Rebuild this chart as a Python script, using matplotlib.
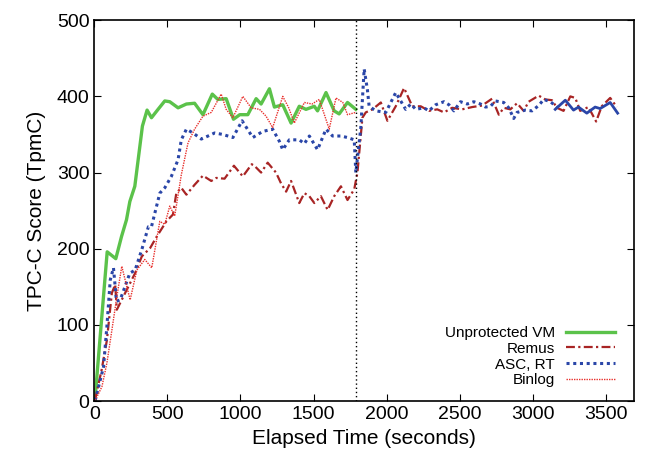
import matplotlib.pyplot as plt
import numpy as np

plt.rcParams['font.family'] = ['Liberation Sans', 'DejaVu Sans']

# Unprotected VM
t_vm = [4, 88, 147, 186, 220, 243, 277, 329, 361, 391, 436, 482, 516, 573, 630, 686,
        743, 807, 845, 902, 952, 995, 1050, 1107, 1141, 1198, 1232, 1289, 1346, 1402,
        1448, 1505, 1527, 1585, 1641, 1675, 1732, 1789]
v_vm = [1, 196, 187, 216, 238, 262, 282, 361, 382, 372, 383, 394, 393, 385, 390, 391,
        376, 403, 396, 397, 370, 376, 376, 397, 390, 410, 386, 389, 365, 387,
        383, 387, 381, 405, 381, 377, 392, 383]

# Remus
t_remus = [4, 50, 86, 120, 143, 154, 211, 279, 325, 382, 427, 493, 538, 561, 595, 630,
           686, 743, 800, 834, 891, 955, 1016, 1077, 1100, 1141, 1186, 1243, 1277, 1312,
           1346, 1402, 1437, 1471, 1505, 1550, 1596, 1641, 1687, 1732, 1778, 1800, 1834,
           1857, 1903, 1960, 2005, 2062, 2119, 2175, 2233, 2289, 2346, 2392, 2448, 2516,
           2585, 2653, 2721, 2767, 2801, 2846, 2892, 2937, 2971, 3040, 3085, 3131, 3165,
           3210, 3256, 3290, 3324, 3380, 3433, 3471, 3529, 3574]
v_remus = [1, 41, 80, 142, 153, 120, 142, 168, 190, 201, 216, 236, 245, 273, 280, 271,
           284, 296, 289, 293, 292, 309, 295, 311, 308, 300, 313, 300, 286, 275,
           289, 260, 273, 269, 260, 269, 251, 269, 282, 264, 278, 300, 372,
           379, 383, 392, 368, 387, 411, 387, 387, 381, 383, 379, 385, 383,
           386, 388, 397, 376, 385, 383, 391, 381, 393, 401, 396, 395, 385,
           381, 400, 398, 381, 386, 367, 387, 398, 386]

# ASC, RT
t_asc = [6, 63, 86, 109, 131, 152, 177, 243, 279, 325, 370, 391, 448, 482, 527, 573,
         595, 630, 675, 732, 778, 823, 880, 948, 1011, 1084, 1152, 1220, 1266, 1289,
         1334, 1402, 1437, 1471, 1527, 1585, 1630, 1687, 1732, 1778, 1789, 1812, 1823,
         1846, 1868, 1880, 1926, 1994, 2028, 2062, 2130, 2165, 2199, 2255, 2289, 2335,
         2392, 2426, 2460, 2505, 2551, 2596, 2642, 2676, 2710, 2744, 2801, 2835, 2869,
         2892, 2949, 2994, 3040, 3074, 3120, 3165]
v_asc = [1, 45, 98, 159, 175, 131, 133, 168, 172, 199, 229, 229, 273, 280, 295, 317,
         343, 357, 352, 344, 348, 352, 350, 346, 368, 346, 354, 357, 341, 330,
         343, 343, 338, 348, 330, 357, 348, 348, 346, 343, 300, 340, 359,
         436, 409, 387, 381, 379, 392, 405, 383, 390, 383, 385, 381, 389,
         393, 389, 381, 393, 390, 393, 390, 386, 387, 394, 392, 385, 371,
         379, 382, 381, 388, 396, 393, 386]

# ASC, RT (solid part at the end)
t_asc2 = [3153, 3222, 3278, 3312, 3369, 3426, 3460, 3529, 3580]
v_asc2 = [383, 395, 382, 386, 378, 386, 384, 392, 378]

# Binlog
t_bin = [6, 52, 86, 120, 154, 188, 211, 245, 291, 345, 393, 448, 482, 516, 550, 595,
         641, 686, 743, 800, 868, 902, 948, 1016, 1073, 1130, 1175, 1220, 1289, 1330,
         1368, 1437, 1490, 1539, 1607, 1653, 1700, 1732, 1789]
v_bin = [1, 19, 50, 93, 137, 177, 159, 133, 172, 186, 175, 236, 232, 256, 243, 297,
         339, 357, 374, 379, 403, 383, 372, 400, 385, 383, 374, 359, 400, 385,
         365, 392, 390, 396, 357, 398, 392, 376, 379]

migrate_t = 1790

fig = plt.figure(figsize=(6.46, 4.59), dpi=100)
ax = fig.add_axes([0.146, 0.126, 0.835, 0.830])

ax.plot(t_vm, v_vm, color='#5bc24a', lw=2.4, label='Unprotected VM')
ax.plot(t_remus, v_remus, color='#a82424', lw=1.6, dashes=[4, 1.5, 1, 1.5], label='Remus')
ax.plot(t_asc, v_asc, color='#2a46a8', lw=2.2, linestyle=(0, (1, 1.2)), label='ASC, RT')
ax.plot(t_asc2, v_asc2, color='#2a46a8', lw=2.0)
ax.plot(t_bin, v_bin, color='#e8302c', lw=1.0, linestyle=(0, (1, 0.8)), label='Binlog')
ax.axvline(migrate_t, color='black', lw=1.0, linestyle=(0, (1, 2)))

ax.set_xlim(0, 3690)
ax.set_ylim(0, 500)
ax.set_xticks(np.arange(0, 3501, 500))
ax.set_yticks(np.arange(0, 501, 100))
ax.tick_params(direction='in', top=True, right=True, labelsize=14, length=5)
for s in ax.spines.values():
    s.set_linewidth(1.2)
ax.set_xlabel('Elapsed Time (seconds)', fontsize=15)
ax.set_ylabel('TPC-C Score (TpmC)', fontsize=15, labelpad=8)

ax.legend(loc='lower right', frameon=False, markerfirst=False, fontsize=11,
          handlelength=3.2, labelspacing=0.12, borderaxespad=0.5, handletextpad=0.7,
          bbox_to_anchor=(0.99, 0.0))

plt.savefig('out.png', dpi=100)
